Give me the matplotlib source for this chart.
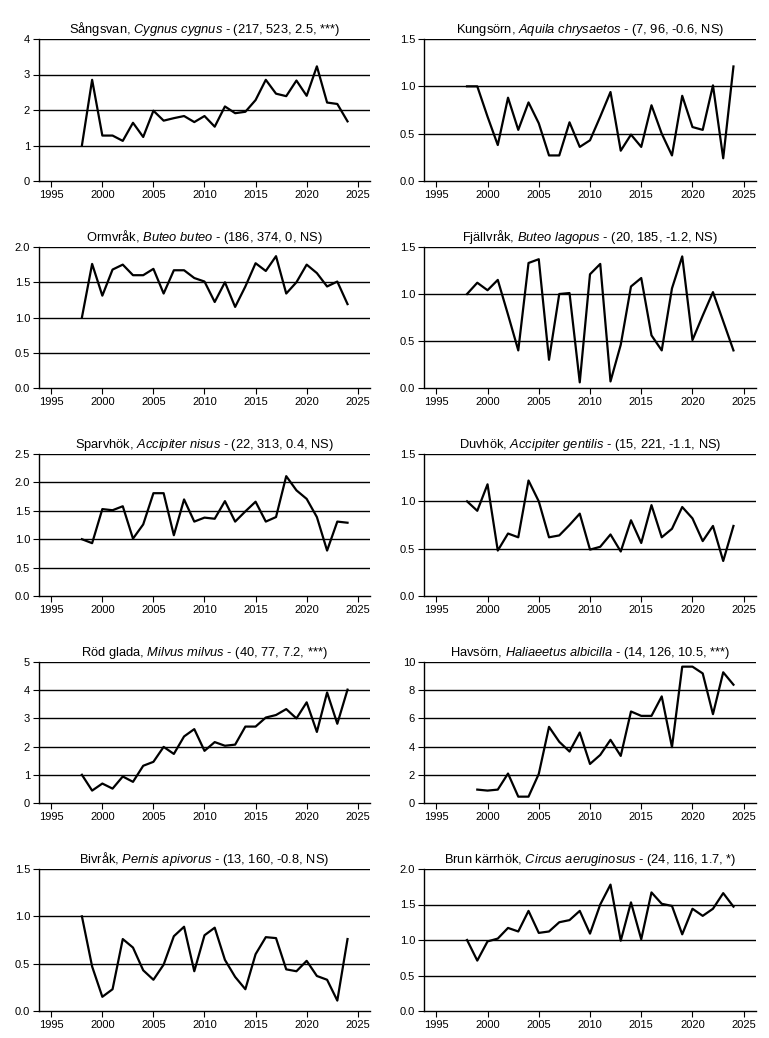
import numpy as np
import matplotlib.pyplot as plt

plt.rcParams['font.family'] = ['Liberation Sans', 'DejaVu Sans']
plt.rcParams['mathtext.fontset'] = 'custom'
plt.rcParams['mathtext.rm'] = 'Liberation Sans'
plt.rcParams['mathtext.it'] = 'Liberation Sans:italic'

years = list(range(1998, 2025))
years_havsorn = list(range(1999, 2025))

sangsvan = [1.0, 2.85, 1.28, 1.28, 1.13, 1.64, 1.24, 1.98, 1.70, 1.77, 1.83, 1.66, 1.83, 1.53,
            2.10, 1.91, 1.95, 2.28, 2.85, 2.46, 2.39, 2.83, 2.40, 3.23, 2.21, 2.17, 1.68]
kungsorn = [1.0, 1.0, 0.68, 0.38, 0.88, 0.54, 0.83, 0.61, 0.27, 0.27, 0.62, 0.36, 0.43, 0.68,
            0.94, 0.32, 0.49, 0.36, 0.80, 0.50, 0.27, 0.90, 0.57, 0.54, 1.01, 0.24, 1.21]
ormvrak = [1.0, 1.76, 1.31, 1.68, 1.75, 1.60, 1.60, 1.69, 1.34, 1.67, 1.67, 1.56, 1.51, 1.22,
           1.50, 1.15, 1.44, 1.77, 1.66, 1.87, 1.34, 1.50, 1.75, 1.63, 1.44, 1.51, 1.19]
fjallvrak = [1.0, 1.12, 1.04, 1.15, 0.78, 0.40, 1.33, 1.37, 0.30, 1.0, 1.01, 0.06, 1.21, 1.32,
             0.07, 0.46, 1.08, 1.17, 0.56, 0.40, 1.06, 1.40, 0.51, 0.77, 1.02, 0.71, 0.40]
sparvhok = [1.0, 0.93, 1.53, 1.51, 1.58, 1.01, 1.26, 1.81, 1.81, 1.07, 1.70, 1.31, 1.38, 1.36,
            1.67, 1.31, 1.49, 1.66, 1.31, 1.39, 2.11, 1.86, 1.71, 1.39, 0.80, 1.31, 1.29]
duvhok = [1.0, 0.90, 1.18, 0.48, 0.66, 0.62, 1.22, 1.0, 0.62, 0.64, 0.75, 0.87, 0.49, 0.52,
          0.65, 0.47, 0.80, 0.56, 0.96, 0.62, 0.71, 0.94, 0.82, 0.58, 0.74, 0.37, 0.74]
rod_glada = [1.0, 0.44, 0.69, 0.51, 0.94, 0.75, 1.32, 1.46, 1.99, 1.74, 2.36, 2.62, 1.85, 2.16,
             2.03, 2.07, 2.71, 2.71, 3.03, 3.12, 3.33, 3.0, 3.57, 2.52, 3.92, 2.81, 4.02]
havsorn = [0.95, 0.88, 0.95, 2.09, 0.45, 0.45, 2.06, 5.40, 4.34, 3.65, 5.0, 2.77, 3.41,
           4.48, 3.34, 6.49, 6.18, 6.18, 7.56, 3.96, 9.67, 9.67, 9.19, 6.30, 9.27, 8.39]
bivrak = [1.0, 0.47, 0.15, 0.23, 0.76, 0.67, 0.43, 0.33, 0.49, 0.79, 0.89, 0.42, 0.80, 0.88,
          0.54, 0.36, 0.23, 0.60, 0.78, 0.77, 0.44, 0.42, 0.53, 0.37, 0.33, 0.11, 0.76]
brun_karrhok = [1.0, 0.71, 0.98, 1.02, 1.17, 1.12, 1.41, 1.10, 1.12, 1.25, 1.28, 1.41, 1.09, 1.50,
                1.78, 0.99, 1.53, 1.01, 1.67, 1.51, 1.48, 1.08, 1.44, 1.34, 1.44, 1.66, 1.47]

titles = [
    ("Sångsvan", "Cygnus cygnus", "(217, 523, 2.5, ***)"),
    ("Kungsörn", "Aquila chrysaetos", "(7, 96, -0.6, NS)"),
    ("Ormvråk", "Buteo buteo", "(186, 374, 0, NS)"),
    ("Fjällvråk", "Buteo lagopus", "(20, 185, -1.2, NS)"),
    ("Sparvhök", "Accipiter nisus", "(22, 313, 0.4, NS)"),
    ("Duvhök", "Accipiter gentilis", "(15, 221, -1.1, NS)"),
    ("Röd glada", "Milvus milvus", "(40, 77, 7.2, ***)"),
    ("Havsörn", "Haliaeetus albicilla", "(14, 126, 10.5, ***)"),
    ("Bivråk", "Pernis apivorus", "(13, 160, -0.8, NS)"),
    ("Brun kärrhök", "Circus aeruginosus", "(24, 116, 1.7, *)"),
]
series = [(years, sangsvan), (years, kungsorn), (years, ormvrak), (years, fjallvrak),
          (years, sparvhok), (years, duvhok), (years, rod_glada), (years_havsorn, havsorn),
          (years, bivrak), (years, brun_karrhok)]
yticks = [[0, 1, 2, 3, 4], [0.0, 0.5, 1.0, 1.5], [0.0, 0.5, 1.0, 1.5, 2.0], [0.0, 0.5, 1.0, 1.5],
          [0.0, 0.5, 1.0, 1.5, 2.0, 2.5], [0.0, 0.5, 1.0, 1.5], [0, 1, 2, 3, 4, 5],
          [0, 2, 4, 6, 8, 10], [0.0, 0.5, 1.0, 1.5], [0.0, 0.5, 1.0, 1.5, 2.0]]
xticks = [1995, 2000, 2005, 2010, 2015, 2020, 2025]

W, H = 769, 1038
fig = plt.figure(figsize=(W / 100, H / 100), dpi=100)

# axes boxes in pixels
col_x = [(39, 370), (424, 756)]
row_y = [(39, 181), (247, 388), (454, 596), (662, 803), (869, 1011)]

for i, (sv, lat, stats) in enumerate(titles):
    r, c = divmod(i, 2)
    x0, x1 = col_x[c]
    y0, y1 = row_y[r]
    ax = fig.add_axes([x0 / W, 1 - y1 / H, (x1 - x0) / W, (y1 - y0) / H])
    xs, ys = series[i]
    yt = yticks[i]
    for h in yt[1:]:
        ax.axhline(h, color='black', lw=1.0, zorder=1)
    ax.plot(xs, ys, color='black', lw=1.6, zorder=2)
    ax.set_xlim(1993.8, 2026.2)
    ax.set_ylim(yt[0], yt[-1])
    ax.set_xticks(xticks)
    ax.set_yticks(yt)
    if isinstance(yt[1], float):
        ax.set_yticklabels([f"{v:.1f}" for v in yt])
    else:
        ax.set_yticklabels([str(v) for v in yt])
    ax.spines['top'].set_visible(False)
    ax.spines['right'].set_visible(False)
    ax.spines['left'].set_linewidth(1.0)
    ax.spines['bottom'].set_linewidth(1.0)
    ax.tick_params(labelsize=8, length=4, width=0.8, pad=2.5)
    lat_tex = lat.replace(" ", r"\ ")
    ax.set_title(f"{sv}, $\\it{{{lat_tex}}}$ - {stats}", fontsize=9.3, pad=4)

fig.savefig("out.png", dpi=100)
